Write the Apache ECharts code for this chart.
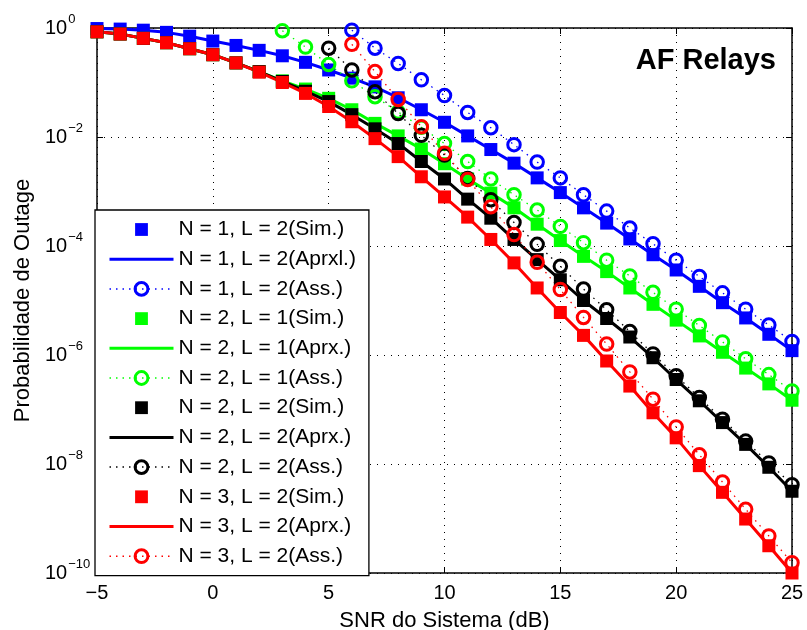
<!DOCTYPE html>
<html>
<head>
<meta charset="utf-8">
<script src="https://cdn.jsdelivr.net/npm/echarts@6/dist/echarts.min.js"></script>
<style>
  html, body { margin: 0; padding: 0; background: #fff; }
  #chart { width: 807px; height: 630px; }
</style>
</head>
<body>
<div id="chart"></div>
<script>
// SNR (dB) for all simulated / approximated curves
var snr = [-5,-4,-3,-2,-1,0,1,2,3,4,5,6,7,8,9,10,11,12,13,14,15,16,17,18,19,20,21,22,23,24,25];
// Values are log10 of the outage probability

// N = 1, L = 2
var blueSim  = [-0.01,-0.02,-0.04,-0.08,-0.15,-0.24,-0.32,-0.41,-0.51,-0.63,-0.77,-0.92,-1.08,-1.28,-1.50,-1.73,-1.98,-2.23,-2.48,-2.75,-3.02,-3.30,-3.58,-3.87,-4.16,-4.44,-4.74,-5.04,-5.32,-5.62,-5.92];
var blueAprx = [-0.01,-0.02,-0.04,-0.08,-0.15,-0.24,-0.32,-0.41,-0.51,-0.63,-0.77,-0.92,-1.08,-1.28,-1.50,-1.73,-1.98,-2.23,-2.48,-2.75,-3.02,-3.30,-3.58,-3.87,-4.16,-4.44,-4.74,-5.04,-5.32,-5.62,-5.92];
var blueAssSnr = [6,7,8,9,10,11,12,13,14,15,16,17,18,19,20,21,22,23,24,25];
var blueAss  = [-0.04,-0.37,-0.65,-0.95,-1.24,-1.55,-1.83,-2.14,-2.46,-2.75,-3.06,-3.36,-3.67,-3.96,-4.26,-4.56,-4.86,-5.16,-5.45,-5.75];

// N = 2, L = 1
var greenSim  = [-0.07,-0.11,-0.19,-0.27,-0.38,-0.49,-0.64,-0.80,-0.97,-1.12,-1.29,-1.50,-1.75,-1.98,-2.22,-2.49,-2.77,-3.03,-3.30,-3.60,-3.90,-4.19,-4.47,-4.77,-5.07,-5.36,-5.65,-5.95,-6.24,-6.53,-6.83];
var greenAprx = [-0.07,-0.11,-0.19,-0.27,-0.38,-0.49,-0.64,-0.80,-0.97,-1.12,-1.29,-1.50,-1.75,-1.98,-2.22,-2.49,-2.77,-3.03,-3.30,-3.60,-3.90,-4.19,-4.47,-4.77,-5.07,-5.36,-5.65,-5.95,-6.24,-6.53,-6.83];
var greenAssSnr = [3,4,5,6,7,8,9,10,11,12,13,14,15,16,17,18,19,20,21,22,23,24,25];
var greenAss  = [-0.05,-0.35,-0.67,-0.97,-1.26,-1.54,-1.82,-2.12,-2.45,-2.77,-3.06,-3.34,-3.64,-3.94,-4.26,-4.55,-4.85,-5.16,-5.46,-5.76,-6.07,-6.36,-6.66];

// N = 2, L = 2
var blackSim  = [-0.07,-0.11,-0.19,-0.27,-0.38,-0.49,-0.64,-0.80,-0.98,-1.16,-1.35,-1.59,-1.85,-2.12,-2.45,-2.77,-3.14,-3.49,-3.88,-4.25,-4.62,-5.00,-5.33,-5.67,-6.05,-6.45,-6.84,-7.24,-7.64,-8.06,-8.50];
var blackAprx = [-0.07,-0.11,-0.19,-0.27,-0.38,-0.49,-0.64,-0.80,-0.98,-1.16,-1.35,-1.59,-1.85,-2.12,-2.45,-2.77,-3.14,-3.49,-3.88,-4.25,-4.62,-5.00,-5.33,-5.67,-6.05,-6.45,-6.84,-7.24,-7.64,-8.06,-8.50];
var blackAssSnr = [5,6,7,8,9,10,11,12,13,14,15,16,17,18,19,20,21,22,23,24,25];
var blackAss  = [-0.37,-0.77,-1.17,-1.57,-1.97,-2.33,-2.76,-3.15,-3.57,-3.97,-4.37,-4.79,-5.17,-5.57,-5.98,-6.38,-6.78,-7.18,-7.58,-7.98,-8.38];

// N = 3, L = 2
var redSim  = [-0.07,-0.11,-0.19,-0.27,-0.38,-0.49,-0.64,-0.81,-1.00,-1.20,-1.44,-1.72,-2.03,-2.36,-2.73,-3.10,-3.47,-3.88,-4.31,-4.77,-5.22,-5.64,-6.11,-6.57,-7.06,-7.52,-8.03,-8.52,-9.01,-9.50,-10.0];
var redAprx = [-0.07,-0.11,-0.19,-0.27,-0.38,-0.49,-0.64,-0.81,-1.00,-1.20,-1.44,-1.72,-2.03,-2.36,-2.73,-3.10,-3.47,-3.88,-4.31,-4.77,-5.22,-5.64,-6.11,-6.57,-7.06,-7.52,-8.03,-8.52,-9.01,-9.50,-10.0];
var redAssSnr = [6,7,8,9,10,11,12,13,14,15,16,17,18,19,20,21,22,23,24,25];
var redAss  = [-0.30,-0.80,-1.31,-1.81,-2.30,-2.78,-3.28,-3.79,-4.30,-4.80,-5.31,-5.80,-6.31,-6.81,-7.32,-7.83,-8.33,-8.83,-9.32,-9.81];

var xTicks = [-5, 0, 5, 10, 15, 20, 25];
var yTickExps = [0, -2, -4, -6, -8, -10];

var FONT = '"Liberation Sans", Arial, Helvetica, sans-serif';

function pairs(xs, ys) { return xs.map(function (x, i) { return [x, ys[i]]; }); }

function simSeries(name, color, ys) {
  return { name: name, type: 'line', data: pairs(snr, ys), symbol: 'rect', symbolSize: 13,
    itemStyle: { color: color }, lineStyle: { color: color, width: 0, opacity: 0 }, clip: false };
}
function aprxSeries(name, color, ys) {
  return { name: name, type: 'line', data: pairs(snr, ys), symbol: 'none', showSymbol: false,
    itemStyle: { color: color }, lineStyle: { color: color, width: 3 } };
}
function assSeries(name, color, xs, ys) {
  return { name: name, type: 'line', data: pairs(xs, ys), symbol: 'circle', symbolSize: 12.5,
    itemStyle: { color: 'rgba(0,0,0,0)', borderColor: color, borderWidth: 3 },
    lineStyle: { color: color, width: 1.3, type: [1.5, 5] }, clip: false };
}

var series = [
  simSeries('N = 1, L = 2(Sim.)', '#0000ff', blueSim),
  aprxSeries('N = 1, L = 2(Aprxl.)', '#0000ff', blueAprx),
  assSeries('N = 1, L = 2(Ass.)', '#0000ff', blueAssSnr, blueAss),
  simSeries('N = 2, L = 1(Sim.)', '#00ff00', greenSim),
  aprxSeries('N = 2, L = 1(Aprx.)', '#00ff00', greenAprx),
  assSeries('N = 2, L = 1(Ass.)', '#00ff00', greenAssSnr, greenAss),
  simSeries('N = 2, L = 2(Sim.)', '#000000', blackSim),
  aprxSeries('N = 2, L = 2(Aprx.)', '#000000', blackAprx),
  assSeries('N = 2, L = 2(Ass.)', '#000000', blackAssSnr, blackAss),
  simSeries('N = 3, L = 2(Sim.)', '#ff0000', redSim),
  aprxSeries('N = 3, L = 2(Aprx.)', '#ff0000', redAprx),
  assSeries('N = 3, L = 2(Ass.)', '#ff0000', redAssSnr, redAss)
];

var legendData = series.map(function (s) {
  var item = { name: s.name };
  if (s.symbol === 'none') { item.itemStyle = { opacity: 0 }; item.lineStyle = { width: 3 }; }
  if (s.symbol === 'circle') { item.itemStyle = { borderWidth: 3 }; item.lineStyle = { width: 1.5 }; }
  return item;
});

var gridLine = { show: true, lineStyle: { color: '#000', width: 1, type: [1, 6] } };
var axLine = { onZero: false, lineStyle: { color: '#000', width: 1.5 } };
var axTick = { inside: true, length: 6, lineStyle: { color: '#000' } };

var chart = echarts.init(document.getElementById('chart'), null, { renderer: 'canvas' });
chart.setOption({
  animation: false,
  backgroundColor: '#fff',
  textStyle: { fontFamily: FONT },
  grid: { left: 97, right: 15, top: 28, bottom: 57, containLabel: false, outerBoundsMode: 'none' },
  graphic: [{
    type: 'text', right: 31, top: 46, z: 10,
    style: { text: 'AF Relays', font: 'bold 29px ' + FONT, fill: '#000' }
  }],
  legend: {
    orient: 'vertical', left: 95, top: 210,
    padding: [9, 13, 9, 13], itemWidth: 64, itemHeight: 16, itemGap: 8.7,
    backgroundColor: '#fff', borderColor: '#000', borderWidth: 1.3, borderRadius: 0,
    textStyle: { fontSize: 21, lineHeight: 21, color: '#000', fontFamily: FONT },
    data: legendData
  },
  xAxis: [{
    type: 'value', min: xTicks[0], max: xTicks[xTicks.length - 1], interval: 5, position: 'bottom',
    name: 'SNR do Sistema (dB)', nameLocation: 'middle', nameGap: 37,
    nameTextStyle: { fontSize: 22, color: '#000', fontFamily: FONT },
    axisLine: axLine, axisTick: axTick,
    axisLabel: { fontSize: 20, color: '#000', margin: 10, fontFamily: FONT,
      formatter: function (v) { return String(v).replace('-', '\u2212'); } },
    splitLine: gridLine
  }, {
    type: 'value', min: xTicks[0], max: xTicks[xTicks.length - 1], interval: 5, position: 'top',
    axisLine: axLine, axisTick: axTick,
    axisLabel: { show: false }, splitLine: { show: false }
  }],
  yAxis: [{
    type: 'value', min: yTickExps[yTickExps.length - 1], max: yTickExps[0], interval: 2, position: 'left',
    name: 'Probabilidade de Outage', nameLocation: 'middle', nameGap: 61,
    nameTextStyle: { fontSize: 22, color: '#000', fontFamily: FONT },
    axisLine: axLine, axisTick: axTick,
    axisLabel: {
      margin: 52, align: 'left', color: '#000',
      formatter: function (v) {
        var e = Math.round(v);
        return '{b|10}{s|' + (e === 0 ? '0' : '\u2212' + Math.abs(e)) + '}';
      },
      rich: {
        b: { fontSize: 20, lineHeight: 20, color: '#000', fontFamily: FONT },
        s: { fontSize: 13, lineHeight: 13, color: '#000', fontFamily: FONT, padding: [0, 0, 17, 1] }
      }
    },
    splitLine: gridLine
  }, {
    type: 'value', min: yTickExps[yTickExps.length - 1], max: yTickExps[0], interval: 2, position: 'right',
    axisLine: axLine, axisTick: axTick,
    axisLabel: { show: false }, splitLine: { show: false }
  }],
  series: series
});
</script>
</body>
</html>
